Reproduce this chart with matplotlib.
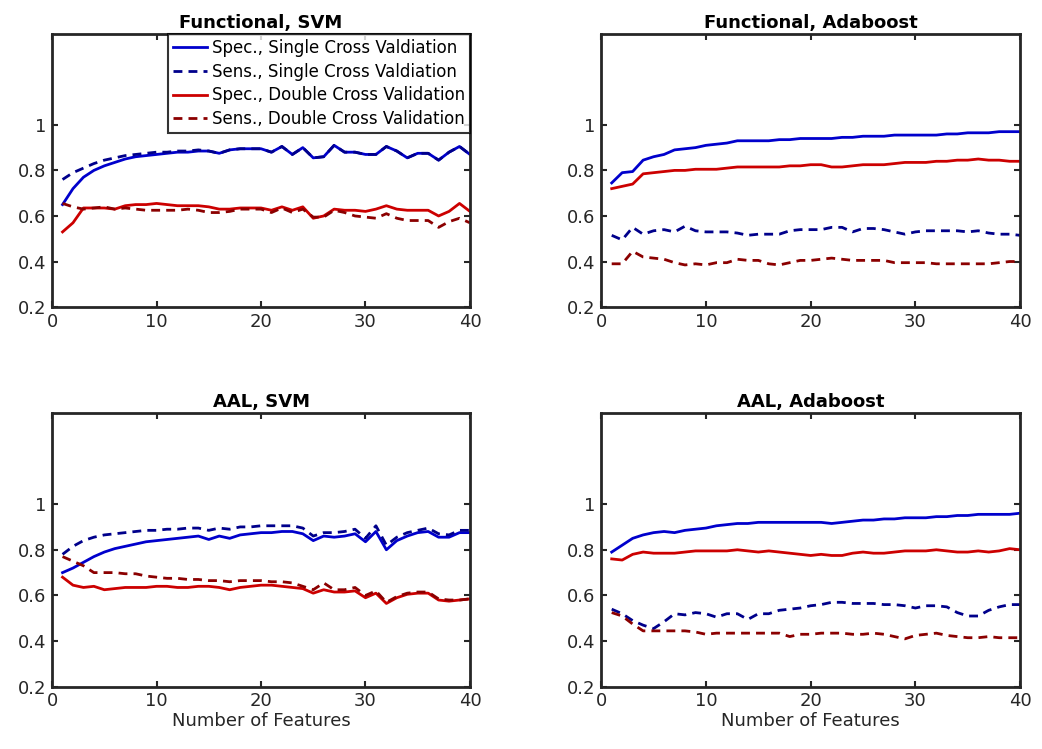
import numpy as np
import matplotlib
matplotlib.use("Agg")
import matplotlib.pyplot as plt

# number of features on the x axis
features = np.arange(1, 41)

# Functional, SVM
func_svm_spec_single = [0.65, 0.72, 0.77, 0.80, 0.82, 0.835, 0.85, 0.86, 0.865, 0.87,
                        0.875, 0.88, 0.88, 0.885, 0.885, 0.875, 0.89, 0.895, 0.895, 0.895,
                        0.88, 0.905, 0.87, 0.90, 0.855, 0.86, 0.91, 0.88, 0.88, 0.87,
                        0.87, 0.905, 0.885, 0.855, 0.875, 0.875, 0.845, 0.88, 0.905, 0.87]
func_svm_sens_single = [0.76, 0.79, 0.81, 0.83, 0.845, 0.855, 0.865, 0.87, 0.875, 0.88,
                        0.88, 0.885, 0.885, 0.89, 0.885, 0.875, 0.89, 0.895, 0.895, 0.895,
                        0.88, 0.905, 0.87, 0.90, 0.855, 0.86, 0.91, 0.88, 0.88, 0.87,
                        0.87, 0.905, 0.885, 0.855, 0.875, 0.875, 0.845, 0.88, 0.905, 0.87]
func_svm_spec_double = [0.53, 0.57, 0.635, 0.635, 0.635, 0.63, 0.645, 0.65, 0.65, 0.655,
                        0.65, 0.645, 0.645, 0.645, 0.64, 0.63, 0.63, 0.635, 0.635, 0.635,
                        0.625, 0.64, 0.625, 0.64, 0.59, 0.60, 0.63, 0.625, 0.625, 0.62,
                        0.63, 0.645, 0.63, 0.625, 0.625, 0.625, 0.60, 0.62, 0.655, 0.62]
func_svm_sens_double = [0.655, 0.64, 0.63, 0.635, 0.64, 0.63, 0.635, 0.63, 0.625, 0.625,
                        0.625, 0.625, 0.63, 0.625, 0.615, 0.615, 0.62, 0.63, 0.63, 0.63,
                        0.615, 0.635, 0.615, 0.63, 0.595, 0.595, 0.625, 0.615, 0.60, 0.595,
                        0.59, 0.61, 0.59, 0.58, 0.58, 0.58, 0.55, 0.575, 0.59, 0.57]

# Functional, Adaboost
func_ada_spec_single = [0.745, 0.79, 0.795, 0.845, 0.86, 0.87, 0.89, 0.895, 0.90, 0.91,
                        0.915, 0.92, 0.93, 0.93, 0.93, 0.93, 0.935, 0.935, 0.94, 0.94,
                        0.94, 0.94, 0.945, 0.945, 0.95, 0.95, 0.95, 0.955, 0.955, 0.955,
                        0.955, 0.955, 0.96, 0.96, 0.965, 0.965, 0.965, 0.97, 0.97, 0.97]
func_ada_sens_single = [0.515, 0.495, 0.55, 0.52, 0.535, 0.54, 0.53, 0.555, 0.535, 0.53,
                        0.53, 0.53, 0.525, 0.515, 0.52, 0.52, 0.52, 0.535, 0.54, 0.54,
                        0.54, 0.55, 0.55, 0.53, 0.545, 0.545, 0.54, 0.53, 0.52, 0.53,
                        0.535, 0.535, 0.535, 0.535, 0.53, 0.535, 0.525, 0.52, 0.52, 0.515]
func_ada_spec_double = [0.72, 0.73, 0.74, 0.785, 0.79, 0.795, 0.80, 0.80, 0.805, 0.805,
                        0.805, 0.81, 0.815, 0.815, 0.815, 0.815, 0.815, 0.82, 0.82, 0.825,
                        0.825, 0.815, 0.815, 0.82, 0.825, 0.825, 0.825, 0.83, 0.835, 0.835,
                        0.835, 0.84, 0.84, 0.845, 0.845, 0.85, 0.845, 0.845, 0.84, 0.84]
func_ada_sens_double = [0.39, 0.39, 0.445, 0.42, 0.415, 0.41, 0.395, 0.385, 0.39, 0.385,
                        0.395, 0.395, 0.41, 0.405, 0.405, 0.39, 0.385, 0.395, 0.405, 0.405,
                        0.41, 0.415, 0.41, 0.405, 0.405, 0.405, 0.405, 0.395, 0.395, 0.395,
                        0.395, 0.39, 0.39, 0.39, 0.39, 0.39, 0.39, 0.395, 0.40, 0.40]

# AAL, SVM
aal_svm_spec_single = [0.70, 0.72, 0.745, 0.77, 0.79, 0.805, 0.815, 0.825, 0.835, 0.84,
                       0.845, 0.85, 0.855, 0.86, 0.845, 0.86, 0.85, 0.865, 0.87, 0.875,
                       0.875, 0.88, 0.88, 0.87, 0.84, 0.86, 0.855, 0.86, 0.87, 0.835,
                       0.88, 0.80, 0.84, 0.86, 0.875, 0.88, 0.855, 0.855, 0.875, 0.875]
aal_svm_sens_single = [0.78, 0.815, 0.84, 0.855, 0.865, 0.87, 0.875, 0.88, 0.885, 0.885,
                       0.89, 0.89, 0.895, 0.895, 0.885, 0.895, 0.89, 0.90, 0.90, 0.905,
                       0.905, 0.905, 0.905, 0.895, 0.86, 0.875, 0.875, 0.88, 0.89, 0.85,
                       0.905, 0.82, 0.855, 0.875, 0.885, 0.895, 0.87, 0.865, 0.885, 0.885]
aal_svm_spec_double = [0.68, 0.645, 0.635, 0.64, 0.625, 0.63, 0.635, 0.635, 0.635, 0.64,
                       0.64, 0.635, 0.635, 0.64, 0.64, 0.635, 0.625, 0.635, 0.64, 0.645,
                       0.645, 0.64, 0.635, 0.63, 0.61, 0.625, 0.615, 0.615, 0.62, 0.59,
                       0.61, 0.565, 0.59, 0.605, 0.61, 0.61, 0.58, 0.575, 0.58, 0.585]
aal_svm_sens_double = [0.77, 0.75, 0.73, 0.70, 0.70, 0.70, 0.695, 0.695, 0.685, 0.68,
                       0.675, 0.675, 0.67, 0.67, 0.665, 0.665, 0.66, 0.665, 0.665, 0.665,
                       0.66, 0.66, 0.655, 0.64, 0.625, 0.655, 0.625, 0.625, 0.635, 0.60,
                       0.62, 0.57, 0.595, 0.61, 0.615, 0.615, 0.585, 0.58, 0.58, 0.585]

# AAL, Adaboost
aal_ada_spec_single = [0.79, 0.82, 0.85, 0.865, 0.875, 0.88, 0.875, 0.885, 0.89, 0.895,
                       0.905, 0.91, 0.915, 0.915, 0.92, 0.92, 0.92, 0.92, 0.92, 0.92,
                       0.92, 0.915, 0.92, 0.925, 0.93, 0.93, 0.935, 0.935, 0.94, 0.94,
                       0.94, 0.945, 0.945, 0.95, 0.95, 0.955, 0.955, 0.955, 0.955, 0.96]
aal_ada_sens_single = [0.54, 0.52, 0.49, 0.47, 0.455, 0.485, 0.52, 0.515, 0.525, 0.52,
                       0.505, 0.52, 0.52, 0.495, 0.52, 0.52, 0.535, 0.54, 0.545, 0.555,
                       0.56, 0.57, 0.57, 0.565, 0.565, 0.565, 0.56, 0.56, 0.555, 0.545,
                       0.555, 0.555, 0.55, 0.525, 0.51, 0.51, 0.535, 0.55, 0.56, 0.56]
aal_ada_spec_double = [0.76, 0.755, 0.78, 0.79, 0.785, 0.785, 0.785, 0.79, 0.795, 0.795,
                       0.795, 0.795, 0.80, 0.795, 0.79, 0.795, 0.79, 0.785, 0.78, 0.775,
                       0.78, 0.775, 0.775, 0.785, 0.79, 0.785, 0.785, 0.79, 0.795, 0.795,
                       0.795, 0.80, 0.795, 0.79, 0.79, 0.795, 0.79, 0.795, 0.805, 0.80]
aal_ada_sens_double = [0.525, 0.51, 0.475, 0.445, 0.445, 0.445, 0.445, 0.445, 0.44, 0.43,
                       0.435, 0.435, 0.435, 0.435, 0.435, 0.435, 0.435, 0.42, 0.43, 0.43,
                       0.435, 0.435, 0.435, 0.43, 0.43, 0.435, 0.43, 0.42, 0.41, 0.425,
                       0.43, 0.435, 0.425, 0.42, 0.415, 0.415, 0.42, 0.415, 0.415, 0.415]

titles = ["Functional, SVM", "Functional, Adaboost", "AAL, SVM", "AAL, Adaboost"]
panels = [
    (func_svm_spec_single, func_svm_sens_single, func_svm_spec_double, func_svm_sens_double),
    (func_ada_spec_single, func_ada_sens_single, func_ada_spec_double, func_ada_sens_double),
    (aal_svm_spec_single, aal_svm_sens_single, aal_svm_spec_double, aal_svm_sens_double),
    (aal_ada_spec_single, aal_ada_sens_single, aal_ada_spec_double, aal_ada_sens_double),
]
labels = ["Spec., Single Cross Valdiation", "Sens., Single Cross Valdiation",
          "Spec., Double Cross Validation", "Sens., Double Cross Validation"]
colors = ["#0000cc", "#00008b", "#cc0000", "#8b0000"]
styles = ["-", "--", "-", "--"]

plt.rcParams["font.family"] = ["DejaVu Sans"]

fig = plt.figure(figsize=(10.42, 7.49), dpi=100)
positions = [
    [0.050, 0.590, 0.401, 0.365],
    [0.577, 0.590, 0.402, 0.365],
    [0.050, 0.083, 0.401, 0.366],
    [0.577, 0.083, 0.402, 0.366],
]

for i, pos in enumerate(positions):
    ax = fig.add_axes(pos)
    for series, lab, col, ls in zip(panels[i], labels, colors, styles):
        line, = ax.plot(features, series, color=col, linestyle=ls, linewidth=2, label=lab)
        if ls == "--":
            line.set_dashes((3.2, 2.2))
    ax.set_xlim(0, 40)
    ax.set_ylim(0.2, 1.4)
    ax.set_xticks([0, 10, 20, 30, 40])
    ax.set_yticks([0.2, 0.4, 0.6, 0.8, 1.0])
    ax.set_yticklabels(["0.2", "0.4", "0.6", "0.8", "1"])
    ax.tick_params(direction="in", top=True, right=True, length=4, width=1.5,
                   labelsize=13, labelcolor="#262626", color="#262626", pad=4)
    for s in ax.spines.values():
        s.set_linewidth(2)
        s.set_color("#262626")
    ax.set_title(titles[i], fontsize=13, fontweight="bold", pad=4)
    if i >= 2:
        ax.set_xlabel("Number of Features", fontsize=13, color="#262626", labelpad=1)
    if i == 0:
        leg = ax.legend(loc="upper right", fontsize=12, frameon=True, fancybox=False,
                        handlelength=2.0, borderpad=0.3, labelspacing=0.35,
                        handletextpad=0.3, borderaxespad=0.0)
        leg.get_frame().set_edgecolor("black")
        leg.get_frame().set_linewidth(1.5)

fig.savefig("out.png", dpi=100)
